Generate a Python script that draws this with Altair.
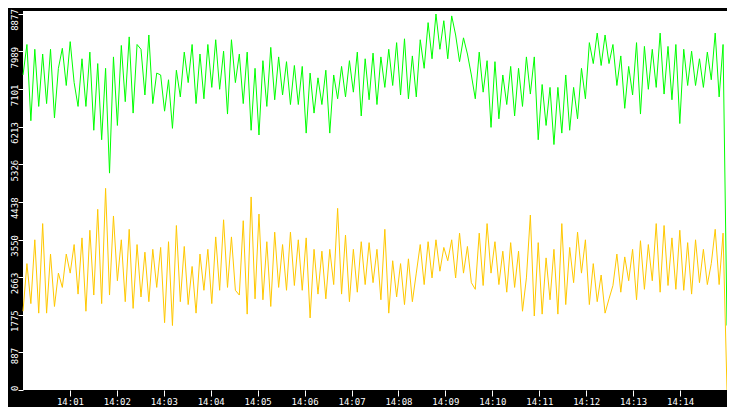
import altair as alt
import pandas as pd
import numpy as np

# green series (upper band)
green = [
    7431, 8150, 6352, 8037, 6689,  7925, 6756, 8037, 6419, 7588,
    8060, 7183, 8217, 7251, 6689,  7813, 6689, 7970, 6127, 7700,
    5903, 7588, 5116, 7857, 6240,  8127, 6801, 8329, 6532, 8150,
    8037, 6959, 8374, 6756, 7476,  7431, 6577, 7318, 6172, 7543,
    6913, 7970, 7251, 8150, 6756,  7925, 6869, 8150, 7138, 8262,
    7093, 7992, 6509, 8262, 7251,  7925, 6756, 7970, 6127, 7588,
    6015, 7768, 6689, 8082, 6846,  7857, 6959, 7745, 6734, 7655,
    6734, 7633, 6060, 7476, 6532,  7363, 6734, 7543, 6060, 7431,
    6869, 7633, 6913, 7768, 7026,  7970, 6464, 7813, 6846, 7947,
    6734, 7857, 7138, 8037, 7183,  8194, 6959, 8284, 6869, 7880,
    6913, 8262, 7588, 8666, 7813,  8869, 8037, 8711, 7813, 8824,
    8374, 7745, 8307, 7925, 7431,  6869, 7970, 7026, 7768, 6195,
    7745, 6397, 7431, 6734, 7633,  6464, 7588, 6689, 7857, 6981,
    7857, 5903, 7206, 6240, 7138,  5790, 7138, 6060, 7431, 6127,
    7138, 6397, 7588, 6869, 8194,  7700, 8419, 7655, 8374, 7700,
    8150, 7183, 7880, 6644, 7633,  6959, 8194, 6509, 8105, 7093,
    8037, 7138, 8419, 6981, 8105,  6846, 8150, 6285, 8037, 7183,
    7992, 7183, 7813, 7138, 7970,  7318, 8419, 6913, 8150, 1521,
]

# yellow series (lower band)
yellow = [
    1858, 2981, 2038, 3543, 1813,  3925, 1813, 3206, 1970, 2757,
    2420, 3206, 2757, 3431, 2262,  3588, 1858, 3768, 2240, 4262,
    2038, 4757, 2240, 4105, 2577,  3543, 2083, 3790, 1925, 3431,
    2195, 3251, 2083, 3318, 2420,  3363, 1588, 3498, 1521, 3880,
    2083, 3386, 2015, 2914, 1813,  3206, 2352, 3318, 2038, 3611,
    2352, 4015, 2420, 3611, 2352,  2240, 3993, 1790, 4554, 2150,
    4150, 2128, 3498, 1970, 3723,  2420, 3431, 2352, 3723, 2465,
    3543, 2352, 3588, 1700, 3318,  2262, 3274, 2150, 3318, 2487,
    4285, 2262, 3655, 2083, 3318,  2307, 3498, 2487, 3476, 2532,
    3318, 2128, 3790, 1813, 3049,  2195, 2981, 2015, 3094, 2083,
    2757, 3431, 2487, 3498, 2644,  3543, 2802, 3363, 3049, 3543,
    2644, 3700, 2757, 3386, 2532,  2375, 3700, 2465, 3925, 2757,
    3498, 2487, 3274, 2307, 3476,  2420, 3274, 1858, 2644, 4127,
    1745, 3476, 1790, 3116, 2128,  3318, 1790, 3925, 2015, 3363,
    2532, 3723, 2757, 3543, 2015,  2981, 2083, 2712, 1813, 2150,
    2465, 3206, 2307, 3139, 2577,  3318, 2128, 3521, 2375, 3431,
    2577, 3925, 2307, 3880, 2465,  3588, 2375, 3768, 2352, 3476,
    2262, 3543, 2532, 3318, 2487,  2981, 3790, 2487, 3700, 0,
]

y_ticks = [0, 887, 1775, 2663, 3550, 4438, 5326, 6213, 7101, 7989, 8877]
x_tick_minutes = list(range(1, 15))
series_names = ["green", "yellow"]
series_colors = ["#00ff00", "#ffc800"]

n = len(green)
base = pd.Timestamp("2024-01-01 14:00:00")
times = base + pd.to_timedelta(np.linspace(0, 900, n), unit="s")
tstr = [t.strftime("%Y-%m-%dT%H:%M:%S.") + f"{t.microsecond // 1000:03d}" for t in times]

df = pd.DataFrame({
    "time": tstr * 2,
    "value": green + yellow,
    "series": ["green"] * n + ["yellow"] * n,
})

def dt(m):
    return alt.DateTime(year=2024, month=1, date=1, hours=14, minutes=m)

x = alt.X(
    "time:T",
    scale=alt.Scale(domain=[dt(0), dt(15)], nice=False),
    axis=alt.Axis(
        values=[dt(m) for m in x_tick_minutes],
        format="%H:%M",
        title=None,
        grid=False,
        domain=False,
        tickSize=6,
        tickColor="white",
        labelColor="white",
        labelFont="DejaVu Sans Mono",
        labelFontSize=9,
        labelPadding=1,
        labelFlush=False,
        labelOverlap=False,
    ),
)

y = alt.Y(
    "value:Q",
    scale=alt.Scale(domain=[0, 8940], nice=False, zero=True),
    axis=alt.Axis(
        values=y_ticks,
        format="d",
        title=None,
        grid=False,
        domain=False,
        tickSize=5,
        tickColor="white",
        labelColor="white",
        labelFont="DejaVu Sans Mono",
        labelFontSize=9,
        labelAngle=270,
        labelAlign="right",
        labelBaseline="alphabetic",
        labelPadding=1,
        labelOffset=-5,
        labelFlush=False,
        labelOverlap=False,
        labelBound=False,
    ),
)

chart = (
    alt.Chart(df)
    .mark_line(strokeWidth=1, interpolate="linear")
    .encode(
        x=x,
        y=y,
        color=alt.Color(
            "series:N",
            scale=alt.Scale(domain=series_names, range=series_colors),
            legend=None,
        ),
    )
    .properties(
        width=704,
        height=379,
        autosize=alt.AutoSizeParams(type="none"),
        padding={"left": 15, "top": 3, "right": 0, "bottom": 17},
        background="black",
    )
    .configure_view(fill="white", stroke=None)
)

chart.save("out.html", embed_options={"renderer": "svg", "actions": False})
